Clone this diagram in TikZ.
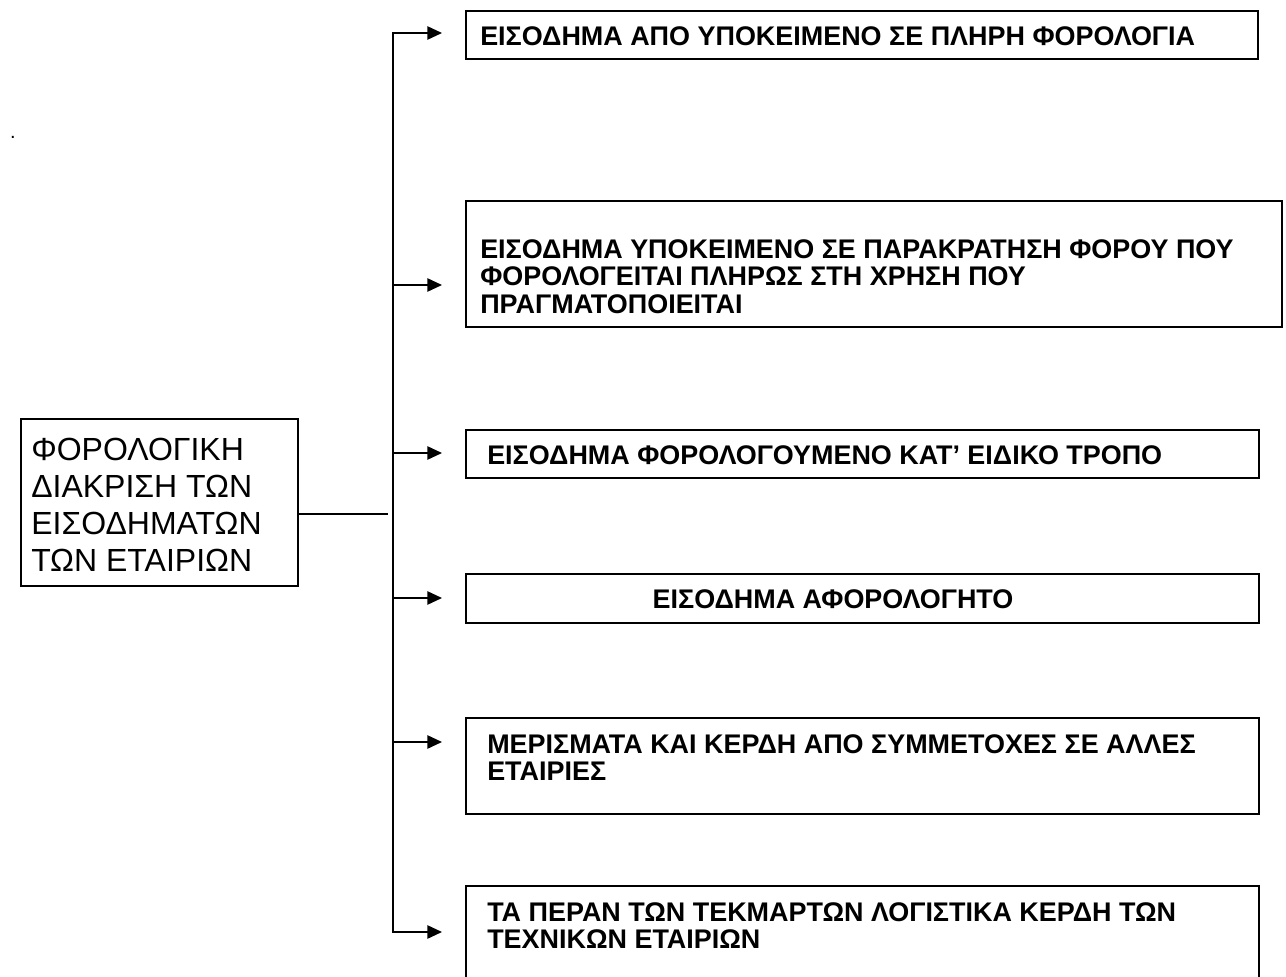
\documentclass[tikz,border=0pt]{standalone}
\usepackage{fontspec}
\setmainfont{Liberation Sans}
\usetikzlibrary{arrows.meta}
\begin{document}
\begin{tikzpicture}[x=0.75pt,y=-0.75pt,
  box/.style={draw,line width=1.3pt,rectangle,inner sep=0pt,anchor=north west},
  btext/.style={anchor=north west,inner sep=0pt,align=left,font=\bfseries\fontsize{20.2pt}{20.6pt}\selectfont},
  ltext/.style={anchor=north west,inner sep=0pt,align=left,font=\fontsize{24pt}{27.6pt}\selectfont},
  conn/.style={line width=1.2pt},
  arr/.style={conn,-{Triangle[length=11pt,width=10pt]}},
  arr2/.style={conn,{Triangle[length=11pt,width=10pt]}-{Triangle[length=11pt,width=10pt]}}]
\useasboundingbox (0,0) rectangle (1286,977);
\clip (0,0) rectangle (1286,977);
% dot
\node[inner sep=0pt,anchor=base,font=\fontsize{15pt}{18pt}\selectfont] (dot) at (13,139) {.};
% left box
\node[box,minimum width=277*0.75pt,minimum height=167*0.75pt] (lb) at (20,418) {};
\node[ltext] (lt) at (31,438) {ΦΟΡΟΛΟΓΙΚΗ\\ΔΙΑΚΡΙΣΗ ΤΩΝ\\ΕΙΣΟΔΗΜΑΤΩΝ\\ΤΩΝ ΕΤΑΙΡΙΩΝ};
% right boxes
\node[box,minimum width=792*0.75pt,minimum height=48*0.75pt] (b1) at (465,10) {};
\node[btext] (t1) at (480,26) {ΕΙΣΟΔΗΜΑ ΑΠΟ ΥΠΟΚΕΙΜΕΝΟ ΣΕ ΠΛΗΡΗ ΦΟΡΟΛΟΓΙΑ};
\node[box,minimum width=816*0.75pt,minimum height=126*0.75pt] (b2) at (465,200) {};
\node[btext] (t2) at (480,239) {ΕΙΣΟΔΗΜΑ ΥΠΟΚΕΙΜΕΝΟ ΣΕ ΠΑΡΑΚΡΑΤΗΣΗ ΦΟΡΟΥ ΠΟΥ\\ΦΟΡΟΛΟΓΕΙΤΑΙ ΠΛΗΡΩΣ ΣΤΗ ΧΡΗΣΗ ΠΟΥ\\ΠΡΑΓΜΑΤΟΠΟΙΕΙΤΑΙ};
\node[box,minimum width=793*0.75pt,minimum height=48*0.75pt] (b3) at (465,429) {};
\node[btext] (t3) at (487,445) {ΕΙΣΟΔΗΜΑ ΦΟΡΟΛΟΓΟΥΜΕΝΟ ΚΑΤ’ ΕΙΔΙΚΟ ΤΡΟΠΟ};
\node[box,minimum width=793*0.75pt,minimum height=49*0.75pt] (b4) at (465,573) {};
\node[btext,anchor=north] (t4) at (833,589) {ΕΙΣΟΔΗΜΑ ΑΦΟΡΟΛΟΓΗΤΟ};
\node[box,minimum width=793*0.75pt,minimum height=96*0.75pt] (b5) at (465,717) {};
\node[btext] (t5) at (487,734) {ΜΕΡΙΣΜΑΤΑ ΚΑΙ ΚΕΡΔΗ ΑΠΟ ΣΥΜΜΕΤΟΧΕΣ ΣΕ ΑΛΛΕΣ\\ΕΤΑΙΡΙΕΣ};
\node[box,minimum width=793*0.75pt,minimum height=120*0.75pt] (b6) at (465,885) {};
\node[btext] (t6) at (487,902) {ΤΑ ΠΕΡΑΝ ΤΩΝ ΤΕΚΜΑΡΤΩΝ ΛΟΓΙΣΤΙΚΑ ΚΕΡΔΗ ΤΩΝ\\ΤΕΧΝΙΚΩΝ ΕΤΑΙΡΙΩΝ};
% connector coordinates
\coordinate (j) at (388,514);
\coordinate (s1) at (393,33);
\coordinate (s2) at (393,285);
\coordinate (s3) at (393,453);
\coordinate (s4) at (393,598);
\coordinate (s5) at (393,742);
\coordinate (s6) at (393,932);
\coordinate (a1) at (442,33);
\coordinate (a2) at (442,285);
\coordinate (a3) at (442,453);
\coordinate (a4) at (442,598);
\coordinate (a5) at (442,742);
\coordinate (a6) at (442,932);
\draw[conn] (lb.east |- j) -- (j);
\draw[arr2] (a1) -- (s1) -- (s6) -- (a6);
\draw[arr] (s2) -- (a2);
\draw[arr] (s3) -- (a3);
\draw[arr] (s4) -- (a4);
\draw[arr] (s5) -- (a5);
\end{tikzpicture}
\end{document}
